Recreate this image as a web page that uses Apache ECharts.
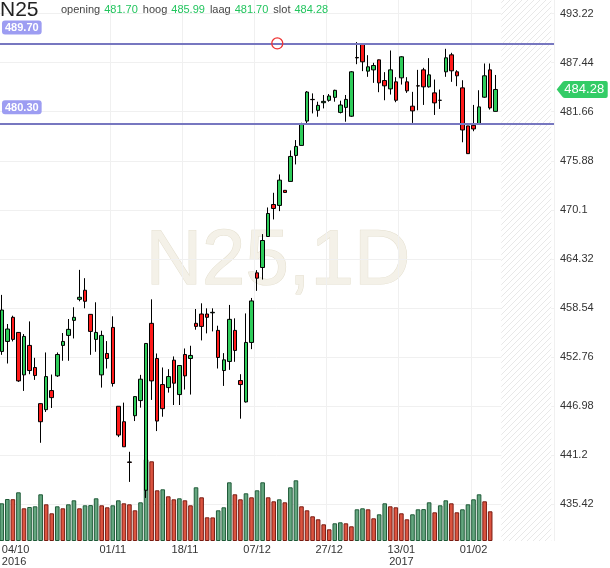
<!DOCTYPE html>
<html><head><meta charset="utf-8">
<script src="https://cdn.jsdelivr.net/npm/echarts@6/dist/echarts.min.js"></script>
<style>html,body{margin:0;padding:0;background:#fff}#c{width:610px;height:568px}</style>
</head><body><div id="c"></div>
<script>
// ---------- DATA ----------
const dates = [
'2016-10-04','2016-10-05','2016-10-06','2016-10-07','2016-10-10','2016-10-11','2016-10-12','2016-10-13','2016-10-14','2016-10-17','2016-10-18','2016-10-19','2016-10-20','2016-10-21','2016-10-24','2016-10-25','2016-10-26','2016-10-27','2016-10-28','2016-10-31',
'2016-11-01','2016-11-02','2016-11-03','2016-11-04','2016-11-07','2016-11-08','2016-11-09','2016-11-10','2016-11-11','2016-11-14','2016-11-15','2016-11-16','2016-11-17','2016-11-18','2016-11-21','2016-11-22','2016-11-23','2016-11-24','2016-11-25','2016-11-28','2016-11-29','2016-11-30',
'2016-12-01','2016-12-02','2016-12-05','2016-12-06','2016-12-07','2016-12-08','2016-12-09','2016-12-12','2016-12-13','2016-12-14','2016-12-15','2016-12-16','2016-12-19','2016-12-20','2016-12-21','2016-12-22','2016-12-23','2016-12-27','2016-12-28','2016-12-29','2016-12-30',
'2017-01-02','2017-01-03','2017-01-04','2017-01-05','2017-01-06','2017-01-09','2017-01-10','2017-01-11','2017-01-12','2017-01-13','2017-01-16','2017-01-17','2017-01-18','2017-01-19','2017-01-20','2017-01-23','2017-01-24','2017-01-25','2017-01-26','2017-01-27','2017-01-30','2017-01-31',
'2017-02-01','2017-02-02','2017-02-03','2017-02-06','2017-02-07'];
const futureDates = ['2017-02-08','2017-02-09','2017-02-10','2017-02-13','2017-02-14','2017-02-15','2017-02-16','2017-02-17','2017-02-20','2017-02-21'];

const opens = [
453.42,454.60,457.44,455.66,450.66,454.13,451.53,447.27,446.56,448.81,
450.54,454.13,455.31,457.08,459.56,460.63,457.79,454.84,450.66,453.18,
456.25,446.96,445.14,440.40,445.85,447.63,437.07,456.73,452.59,449.52,
449.16,452.39,448.34,453.06,452.59,456.73,457.83,457.83,457.97,455.90,
451.17,452.24,455.90,449.99,447.47,454.48,462.68,463.31,466.96,470.73,
470.62,472.40,473.45,476.51,477.69,480.56,483.11,481.82,482.72,483.00,
483.35,481.58,482.17,481.13,488.05,489.62,486.44,486.59,487.77,485.33,
484.35,485.18,485.65,485.18,482.31,484.71,486.59,484.59,483.88,483.01,
486.36,488.36,486.36,484.47,479.99,480.06,480.26,483.37,486.59,481.70];
const closes = [
458.30,456.06,454.84,449.95,455.19,451.17,450.58,445.14,450.46,447.98,
453.06,454.60,456.02,457.44,459.80,459.33,455.78,455.66,455.31,452.59,
449.64,443.57,442.19,440.35,448.10,450.15,454.36,449.95,445.22,446.68,
450.46,449.68,451.76,450.54,452.95,456.37,456.37,457.44,458.03,452.71,
452.43,457.20,453.54,449.52,454.48,459.37,462.05,466.49,469.67,470.26,
473.60,472.15,476.39,477.57,480.24,483.98,483.08,482.41,482.88,483.51,
484.18,482.45,483.11,486.36,488.00,487.54,486.95,487.10,485.06,484.71,
486.59,483.01,488.13,484.12,481.76,484.69,484.59,486.00,482.70,483.00,
488.01,486.48,485.89,479.51,476.72,479.63,482.23,485.89,482.11,484.28];
const lows = [
453.02,452.00,454.60,449.83,448.77,450.74,450.07,442.66,446.29,446.76,
450.42,452.32,452.32,454.95,459.33,458.50,453.02,453.38,449.16,451.41,
449.28,443.33,442.19,438.05,445.22,446.80,436.16,447.71,444.04,445.73,
448.57,447.11,447.11,448.93,448.34,455.98,454.72,455.55,455.78,451.41,
449.36,451.25,452.20,445.50,447.40,453.69,460.56,461.89,466.90,468.97,
469.95,472.15,473.45,475.45,477.69,480.28,481.46,481.07,482.05,482.84,
482.84,481.46,480.48,481.05,487.26,486.44,485.77,485.06,483.96,483.01,
483.68,482.78,484.86,483.88,480.34,481.83,482.46,484.50,481.28,481.99,
485.77,485.18,484.67,478.06,476.70,479.36,480.18,483.30,481.91,481.70];
const highs = [
460.08,456.65,457.63,455.70,455.47,456.96,452.67,447.30,453.30,450.70,
453.30,455.59,457.24,458.62,463.03,462.05,457.80,459.21,455.86,454.64,
457.56,446.96,447.39,441.60,448.15,450.66,454.40,459.56,453.18,451.53,
451.33,452.83,451.80,453.77,454.09,458.42,459.09,458.50,458.50,456.45,
453.22,458.90,457.32,450.74,457.90,459.72,463.00,467.24,470.38,472.11,
474.27,472.40,477.10,478.32,480.36,484.10,483.82,482.84,483.63,483.74,
484.25,482.96,483.63,486.44,489.86,489.70,488.32,487.42,487.80,486.32,
488.87,485.73,488.20,485.73,484.00,486.59,486.83,487.97,485.45,484.27,
489.07,488.60,486.55,485.37,480.00,482.46,484.19,487.34,487.34,485.99];
const volumes = [
37.7,42.0,41.8,48.7,32.7,34.0,34.7,46.7,36.7,27.7,
34.7,32.7,36.7,40.7,32.7,35.7,35.9,42.7,35.7,33.7,
35.7,40.7,37.7,36.7,30.7,38.7,81.7,79.7,50.7,51.7,
44.7,41.7,42.7,40.7,35.7,53.7,43.7,23.7,23.6,30.7,
33.7,58.7,46.7,41.7,47.7,43.7,50.7,58.7,43.7,39.7,
41.7,38.7,53.7,60.7,34.7,30.7,24.7,21.7,16.7,11.7,
17.7,18.7,17.7,14.7,31.7,32.7,31.7,22.7,26.7,37.7,
34.7,33.7,27.7,21.7,26.7,31.7,31.9,38.7,28.7,35.7,
40.7,37.7,28.7,31.7,36.7,41.7,46.7,39.7,29.7,null];

const yTickLabels = ['493.22','487.44','481.66','475.88','470.1','464.32','458.54','452.76','446.98','441.2','435.42'];
const xTickDates = ['2016-10-04','2016-11-01','2016-11-18','2016-12-07','2016-12-27','2017-01-13','2017-02-01'];
const xYearLabels = {'2016-10-04':'2016','2017-01-13':'2017'};
const levelLines = [489.70, 480.30];
const alertDate = '2016-12-13';
const alertValue = 489.70;
const symbolName = 'N25';
const watermarkText = 'N25,1D';

// ---------- BUILD ----------
const allCats = dates.concat(futureDates);
const labelSet = new Set(xTickDates);
const GREEN = '#2ecc5a', RED = '#ff1a1a', VALGREEN = '#22c55e';
const candleData = dates.map((d, i) => [opens[i], closes[i], lows[i], highs[i]]);
const volData = volumes.map((v, i) => {
  if (v == null) return null;
  const up = i === 0 || v > volumes[i - 1];
  return { value: v, itemStyle: { color: up ? '#64a67f' : '#db5440', borderColor: up ? '#1f5a38' : '#7a1c12' } };
});
const last = dates.length - 1;
const yVals = yTickLabels.map(parseFloat);

function hatch() {
  const c = document.createElement('canvas'); c.width = 6; c.height = 6;
  const g = c.getContext('2d');
  g.fillStyle = '#ffffff'; g.fillRect(0, 0, 6, 6);
  g.strokeStyle = '#e8e8e8'; g.lineWidth = 1;
  g.beginPath();
  g.moveTo(0, 6); g.lineTo(6, 0);
  g.moveTo(-1, 1); g.lineTo(1, -1);
  g.moveTo(5, 7); g.lineTo(7, 5);
  g.stroke();
  return c;
}

const chart = echarts.init(document.getElementById('c'), null, { renderer: 'canvas' });
const font = '"Liberation Sans", Arial, sans-serif';
chart.setOption({
  animation: false,
  backgroundColor: '#fff',
  textStyle: { fontFamily: font },
  title: [
    { text: symbolName, left: 0, top: 0, padding: 0, textStyle: { fontSize: 21, fontWeight: 'normal', color: '#222', fontFamily: font } },
    { text: '{l|opening}{v|' + opens[last].toFixed(2) + '}{l|hoog}{v|' + highs[last].toFixed(2) + '}{l|laag}{v|' + lows[last].toFixed(2) + '}{l|slot}{v|' + closes[last].toFixed(2) + '}',
      left: 61, top: 4, padding: 0,
      textStyle: { fontFamily: font, fontWeight: 'normal', rich: {
        l: { fontSize: 11, color: '#444', fontWeight: 'normal', padding: [0, 4, 0, 0], fontFamily: font },
        v: { fontSize: 11, color: VALGREEN, fontWeight: 'normal', padding: [0, 5, 0, 0], fontFamily: font } } } }
  ],
  graphic: [{
    type: 'text', x: 278, y: 262, z: 0, silent: true,
    style: { text: watermarkText, font: '78px ' + font, fill: '#f4f1e8', stroke: '#e4dfcf', lineWidth: 1,
      align: 'center', verticalAlign: 'middle', textAlign: 'center', textVerticalAlign: 'middle' }
  }],
  grid: [
    { left: -1, right: 56, top: 0, bottom: 27, outerBoundsMode: 'none' },
    { left: -1, right: 56, top: 441, bottom: 27, outerBoundsMode: 'none' }
  ],
  xAxis: [
    { type: 'category', data: allCats, gridIndex: 0, boundaryGap: true,
      axisLine: { show: false }, axisTick: { show: false },
      axisLabel: { interval: (i, v) => labelSet.has(v), color: '#333', fontSize: 11, margin: 3, lineHeight: 12,
        alignMinLabel: 'left', hideOverlap: false,
        formatter: v => { const p = v.split('-'); let s = p[2] + '/' + p[1]; if (xYearLabels[v]) s += '\n' + xYearLabels[v]; return s; } },
      splitLine: { show: true, interval: (i, v) => labelSet.has(v), lineStyle: { color: '#f0f0f0', width: 1 } } },
    { type: 'category', data: allCats, gridIndex: 1, boundaryGap: true, show: false }
  ],
  yAxis: [
    { type: 'value', gridIndex: 0, position: 'right', min: 431.09, max: 494.82, scale: true,
      axisLine: { show: false },
      axisTick: { show: false, customValues: yVals },
      axisLabel: { customValues: yVals, color: '#333', fontSize: 11, margin: 6,
        formatter: v => { const s = yTickLabels.find(t => Math.abs(parseFloat(t) - v) < 1e-6); return s || String(v); } },
      splitLine: { show: true, lineStyle: { color: '#f0f0f0', width: 1 } } },
    { type: 'value', gridIndex: 1, min: 0, max: 100, show: false, splitLine: { show: false } }
  ],
  series: [
    { type: 'bar', name: 'volume', xAxisIndex: 1, yAxisIndex: 1, data: volData, barWidth: 4.6, z: 1,
      itemStyle: { borderWidth: 1 } },
    { type: 'candlestick', name: symbolName, xAxisIndex: 0, yAxisIndex: 0, data: candleData, barWidth: 4, z: 3,
      itemStyle: { color: GREEN, color0: RED, borderColor: '#000', borderColor0: '#000', borderColorDoji: '#000', borderWidth: 1 },
      markArea: { silent: true, z: 0,
        itemStyle: { color: { image: hatch(), repeat: 'repeat' } },
        data: [[{ xAxis: futureDates[0] }, { xAxis: futureDates[futureDates.length - 1] }]] },
      markLine: { silent: true, symbol: ['none', 'none'], animation: false,
        lineStyle: { color: '#7777c0', width: 2, type: 'solid' },
        label: { show: true, position: 'insideStartTop', distance: [3, 9], backgroundColor: '#9d9df2', color: '#fff',
          borderRadius: 3, padding: [2, 3, 1, 3], fontSize: 11, fontWeight: 'bold' },
        data: levelLines.map(v => ({ yAxis: v, label: { formatter: v.toFixed(2) } })) },
      markPoint: { silent: true, animation: false,
        data: [
          { coord: [alertDate, alertValue], symbol: 'circle', symbolSize: 11, symbolOffset: [-2, 0],
            itemStyle: { color: 'rgba(255,255,255,0)', borderColor: '#ee3333', borderWidth: 1.3 }, label: { show: false } },
          { coord: [allCats[allCats.length - 1], closes[last]],
            symbol: 'path://M0,8.5L5,2Q6,0 8,0L48,0Q50,0 50,2L50,15Q50,17 48,17L8,17Q6,17 5,15Z',
            symbolSize: [51, 17], symbolKeepAspect: false, symbolOffset: [31, 0],
            itemStyle: { color: '#33cc66' },
            label: { show: true, position: 'inside', offset: [2, 0], formatter: closes[last].toFixed(2), color: '#fff', fontSize: 13 } }
        ] } }
  ]
});
</script>
</body></html>
